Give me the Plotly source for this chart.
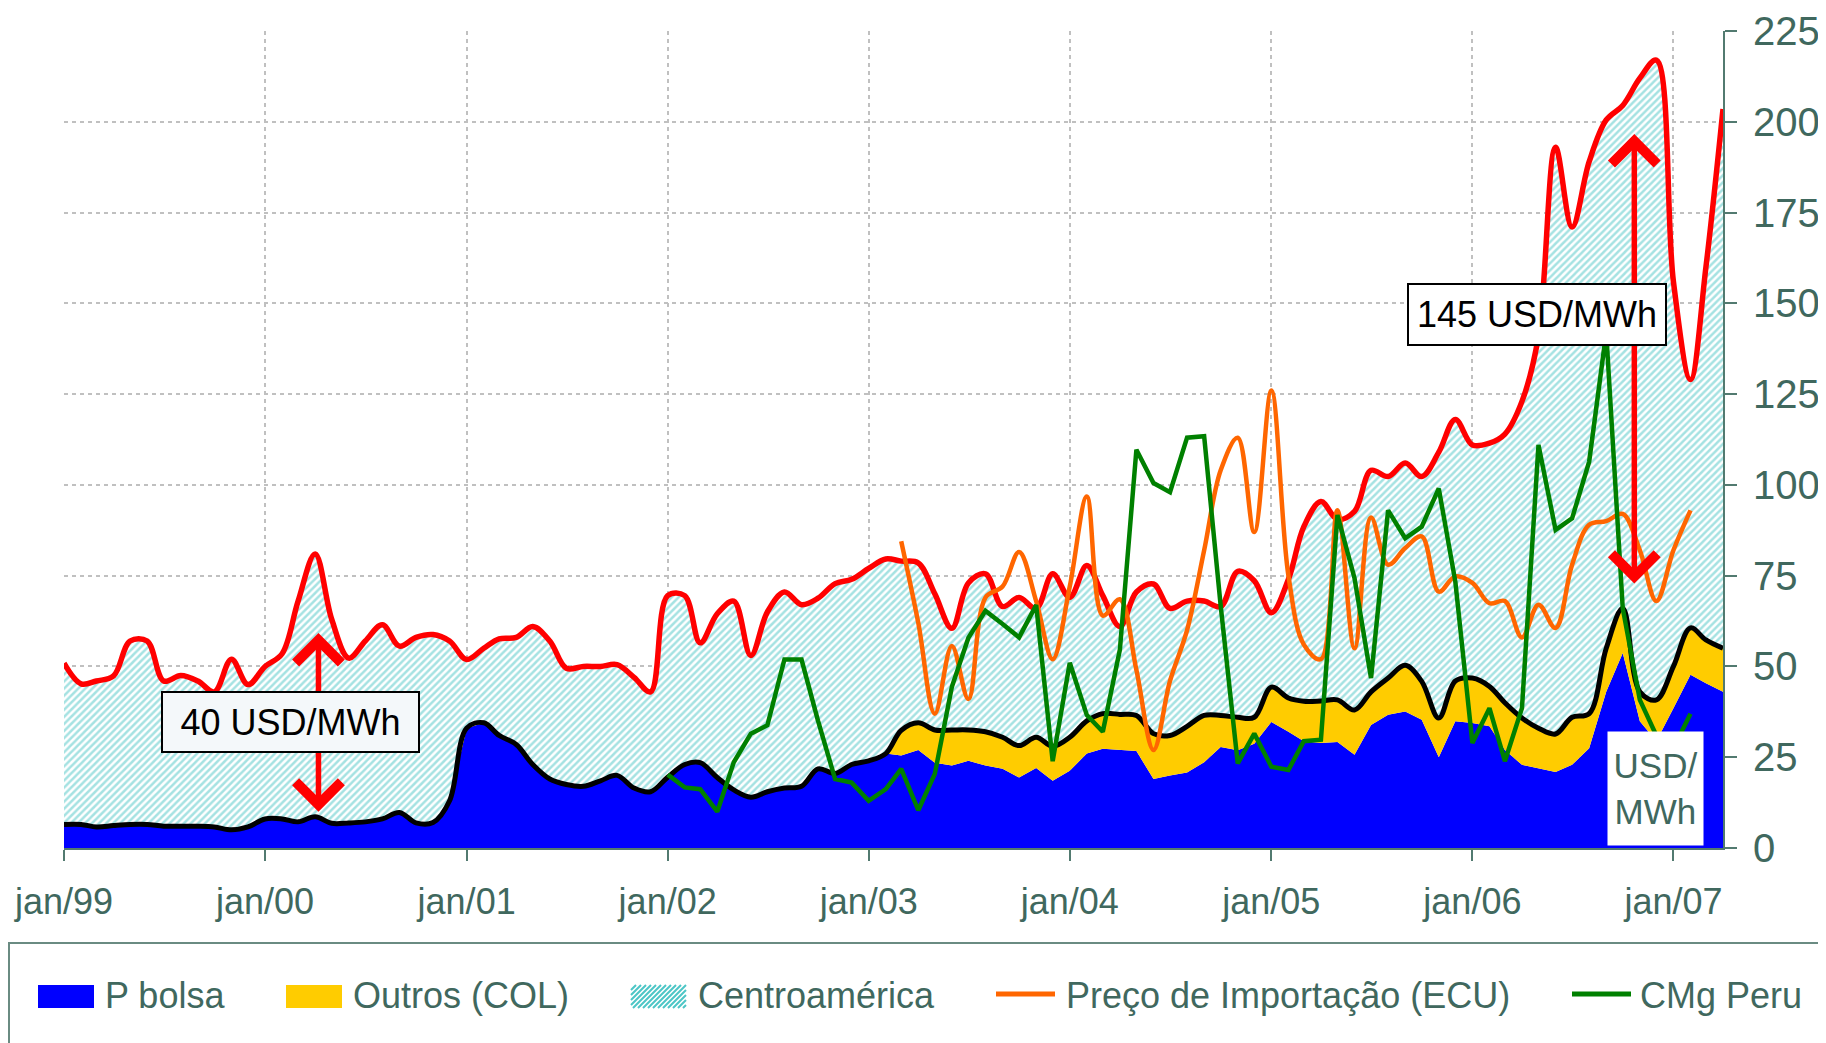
import pandas as pd
import plotly.graph_objects as go

# meses jan/99 .. abr/07
meses = pd.date_range("1999-01-01", periods=100, freq="MS")

# P bolsa (topo da área azul), USD/MWh
p_bolsa = [6.5, 6.5, 5.8, 6.2, 6.5, 6.5, 6, 6, 6, 5.8,
           5, 5.8, 8, 8, 7.2, 8.6, 6.8, 6.9, 7.2, 8,
           9.8, 6.9, 7, 13, 33, 34.5, 31, 28.5, 23, 19,
           17.5, 17, 18.5, 20, 16.5, 15.5, 19.5, 23, 23.5, 19.4,
           16, 14, 15.5, 16.5, 17, 21.8, 20.5, 23, 24, 26,
           25.5, 27, 23.5, 22.7, 24, 22.7, 21.8, 19.4, 22, 18.5,
           21.3, 26, 27.3, 27, 26.7, 19, 20, 20.8, 23.6, 27.8,
           26.9, 28.7, 34.7, 32, 29.4, 28.9, 29.2, 25.7, 33.9, 36.7,
           37.6, 35.3, 25, 34.9, 34.4, 33.5, 27, 22.9, 22, 20.9,
           22.9, 27.5, 43, 53.7, 34.9, 29.4, 38.5, 47.7, 45.4, 43]

# P bolsa + Outros (COL) -> linha preta
topo_col = [6.5, 6.5, 5.8, 6.2, 6.5, 6.5, 6, 6, 6, 5.8,
            5, 5.8, 8, 8, 7.2, 8.6, 6.8, 6.9, 7.2, 8,
            9.8, 6.9, 7, 13, 33, 34.5, 31, 28.5, 23, 19,
            17.5, 17, 18.5, 20, 16.5, 15.5, 19.5, 23, 23.5, 19.4,
            16, 14, 15.5, 16.5, 17, 21.8, 20.5, 23, 24, 26,
            32.4, 34.5, 32.5, 32.5, 32.5, 32, 30.5, 28.2, 30.5, 28,
            30.5, 35, 37, 36.8, 36.5, 31.5, 31, 33.5, 36.5, 36.5,
            36, 36, 44.3, 41.3, 40.4, 40.5, 40.8, 38, 43, 46.8,
            50.3, 45.9, 35.8, 46, 46.8, 44.5, 40, 35.8, 33, 31.4,
            36, 37, 55, 66, 43, 40.8, 50, 60.6, 57.3, 55]

# + Centroamérica -> linha vermelha
topo_ca = [50.9, 45.2, 46, 47.4, 57, 57, 46, 47.5, 46, 43,
           52, 45, 50, 53.5, 68, 81, 63, 52.3, 57, 61.5,
           55.6, 58, 58.8, 57, 51.9, 55, 57.6, 58, 61, 57,
           49.5, 50, 50, 50.5, 47, 43, 69.5, 69.5, 56.5, 64.5,
           68, 53, 65, 70.5, 67, 68.8, 72.8, 74, 77, 79.6,
           79, 78.5, 70, 60.5, 73, 75.5, 66.5, 69, 66, 75.5,
           69, 77.8, 69.5, 61, 70.5, 72.7, 66, 68, 68, 66.5,
           76.2, 73.6, 64.8, 74, 88.5, 95.4, 90.5, 92.7, 104, 102.3,
           106, 102.3, 109, 118, 111, 111.5, 114, 123, 141, 193,
           171, 189, 200.5, 204.5, 212, 217, 156, 129, 160, 203.5]

# Preço de Importação (ECU), mar/03 .. fev/07
importacao = [84.5, 62, 37, 55.6, 41, 69, 72, 81.5, 68, 52,
              72, 96.8, 64, 68.5, 49, 27, 46, 60, 82, 104,
              113, 87, 126, 75, 56, 52, 93, 55, 91, 78,
              82.6, 85.8, 70.6, 74.8, 73, 67.4, 68, 58, 67, 60.6,
              78, 89, 90, 92, 82, 68, 82, 93]

# CMg Peru, jan/02 .. fev/07
cmg_peru = [20.2, 16.7, 16.2, 10, 23.6, 31.5, 33.8, 51.9, 51.9, 35,
            19, 18, 13, 16.2, 21.8, 10.4, 20.4, 44.4, 57.9, 65.3,
            61.7, 58, 66.9, 23.9, 51, 36.6, 32, 54.6, 109.7, 100.5,
            98, 113, 113.4, 66.7, 23.3, 31.5, 22.4, 21.5, 29.4, 29.8,
            91.7, 74.3, 46.8, 93, 85.3, 88.5, 99, 73.4, 28.9, 38.5,
            23.9, 38.5, 111, 87.6, 90.8, 106.4, 142, 66, 40.8, 31,
            27.5, 37]

anos = pd.date_range("1999-01-01", "2007-01-01", freq="YS")
rotulos_x = ["jan/99", "jan/00", "jan/01", "jan/02", "jan/03",
             "jan/04", "jan/05", "jan/06", "jan/07"]

legenda = ["P bolsa", "Outros (COL)", "Centroamérica",
           "Preço de Importação (ECU)", "CMg Peru"]

AZUL, AMARELO, CIANO = "#0000ff", "#ffcc00", "#4cc6c6"
VERMELHO, LARANJA, VERDE = "#ff0000", "#ff6600", "#008000"
TEXTO, EIXO, GRADE = "#40685e", "#527a70", "#c0c0c0"
FONTE = "Arial, 'Liberation Sans', sans-serif"

W, H = 1826, 1043
OFF = 8  # margem padrão da página html
ML, MR, MT, MB = 56, 111, 23, 203


def px(x):
    # x em pixels da janela -> fração do papel
    return (x - OFF - ML) / (W - ML - MR)


def py(y):
    return (H - MB - (y - OFF)) / (H - MT - MB)


fig = go.Figure()

fig.add_trace(go.Scatter(x=meses, y=p_bolsa, mode="lines", fill="tozeroy",
                         fillcolor=AZUL, line=dict(width=0, color=AZUL)))
fig.add_trace(go.Scatter(x=meses, y=topo_col, mode="lines", fill="tonexty",
                         fillcolor=AMARELO,
                         line=dict(width=0, color=AMARELO, shape="spline")))
fig.add_trace(go.Scatter(x=meses, y=topo_ca, mode="lines", fill="tonexty",
                         fillpattern=dict(shape="/", fgcolor=CIANO, bgcolor="white",
                                          size=5, solidity=0.5),
                         line=dict(width=0, color=CIANO, shape="spline")))
fig.add_trace(go.Scatter(x=meses, y=topo_col, mode="lines",
                         line=dict(width=5, color="black", shape="spline")))
fig.add_trace(go.Scatter(x=meses, y=topo_ca, mode="lines",
                         line=dict(width=5.5, color=VERMELHO, shape="spline")))
fig.add_trace(go.Scatter(x=meses[50:98], y=importacao, mode="lines",
                         line=dict(width=4.5, color=LARANJA, shape="spline")))
fig.add_trace(go.Scatter(x=meses[36:98], y=cmg_peru, mode="lines",
                         line=dict(width=4.5, color=VERDE)))

anot = []
# setas duplas
for xs, y_topo, y_base in [("2000-04-07", 59.2, 9.6), ("2006-10-22", 196.6, 72.4)]:
    anot.append(dict(x=xs, y=y_topo, ax=xs, ay=y_base, xref="x", yref="y",
                     axref="x", ayref="y", text="", showarrow=True,
                     arrowside="end+start", arrowhead=4, startarrowhead=4,
                     arrowsize=1.6, startarrowsize=1.6, arrowwidth=5.5,
                     arrowcolor=VERMELHO))
# caixas de texto
caixa = dict(xref="paper", yref="paper", xanchor="center", yanchor="middle",
             showarrow=False, borderpad=0)
anot.append(dict(caixa, x=px(290.5), y=py(722), text="40 USD/MWh",
                 width=255, height=58, bgcolor="#f4f8fa",
                 bordercolor="black", borderwidth=2,
                 font=dict(size=36, color="black")))
anot.append(dict(caixa, x=px(1537), y=py(314.5), text="145 USD/MWh",
                 width=256, height=59, bgcolor="white",
                 bordercolor="black", borderwidth=2,
                 font=dict(size=36, color="black")))
anot.append(dict(caixa, x=px(1655.5), y=py(788.5), text="USD/<br>MWh",
                 width=95, height=113, bgcolor="white",
                 font=dict(size=35, color=TEXTO)))

# legenda
formas = [dict(type="rect", xref="paper", yref="paper", x0=px(9), x1=px(1845),
               y0=py(943), y1=py(1070), line=dict(color="#6a8b82", width=2))]
for x0, cor in [(38, AZUL), (286, AMARELO)]:
    formas.append(dict(type="rect", xref="paper", yref="paper",
                       x0=px(x0), x1=px(x0 + 56), y0=py(985), y1=py(1008),
                       fillcolor=cor, line=dict(width=0)))
# amostra hachurada
hx0, hx1, hy0, hy1 = 631, 686, 985, 1008
alt = hy1 - hy0
caminho = ""
for xs in range(hx0 - alt, hx1, 5):
    t0 = max(0, hx0 - xs)
    t1 = min(alt, hx1 - xs)
    if t1 > t0:
        caminho += "M{:.5f},{:.5f} L{:.5f},{:.5f} ".format(
            px(xs + t0), py(hy1 - t0), px(xs + t1), py(hy1 - t1))
formas.append(dict(type="path", xref="paper", yref="paper", path=caminho,
                   line=dict(color=CIANO, width=2)))
for x0, cor in [(996, LARANJA), (1572, VERDE)]:
    formas.append(dict(type="line", xref="paper", yref="paper",
                       x0=px(x0), x1=px(x0 + 59), y0=py(994), y1=py(994),
                       line=dict(color=cor, width=5)))

for nome, xt in zip(legenda, [103, 351, 696, 1064, 1638]):
    anot.append(dict(x=px(xt), y=py(995), xref="paper", yref="paper",
                     xanchor="left", yanchor="middle", text=nome, showarrow=False,
                     font=dict(size=36, color=TEXTO)))

fig.update_layout(
    width=W, height=H,
    margin=dict(l=ML, r=MR, t=MT, b=MB, autoexpand=False),
    paper_bgcolor="white", plot_bgcolor="white",
    showlegend=False, hovermode=False,
    font=dict(family=FONTE, color=TEXTO),
    annotations=anot, shapes=formas,
)
fig.update_xaxes(
    type="date", range=["1999-01-01", "2007-04-01"], automargin=False,
    tickvals=anos, ticktext=rotulos_x, tickfont=dict(size=36, color=TEXTO),
    showline=True, linecolor=EIXO, linewidth=2,
    ticks="outside", ticklen=11, tickwidth=2, tickcolor=EIXO,
    showgrid=True, gridcolor=GRADE, gridwidth=2, griddash="4px,4px",
    zeroline=False, ticklabelstandoff=10,
)
fig.update_yaxes(
    side="right", range=[0, 225], tick0=0, dtick=25, automargin=False,
    tickfont=dict(size=40, color=TEXTO),
    showline=True, linecolor=EIXO, linewidth=2,
    ticks="outside", ticklen=12, tickwidth=2, tickcolor=EIXO,
    showgrid=True, gridcolor=GRADE, gridwidth=2, griddash="4px,4px",
    zeroline=False, ticklabelstandoff=8,
)

fig.write_html("out.html")
